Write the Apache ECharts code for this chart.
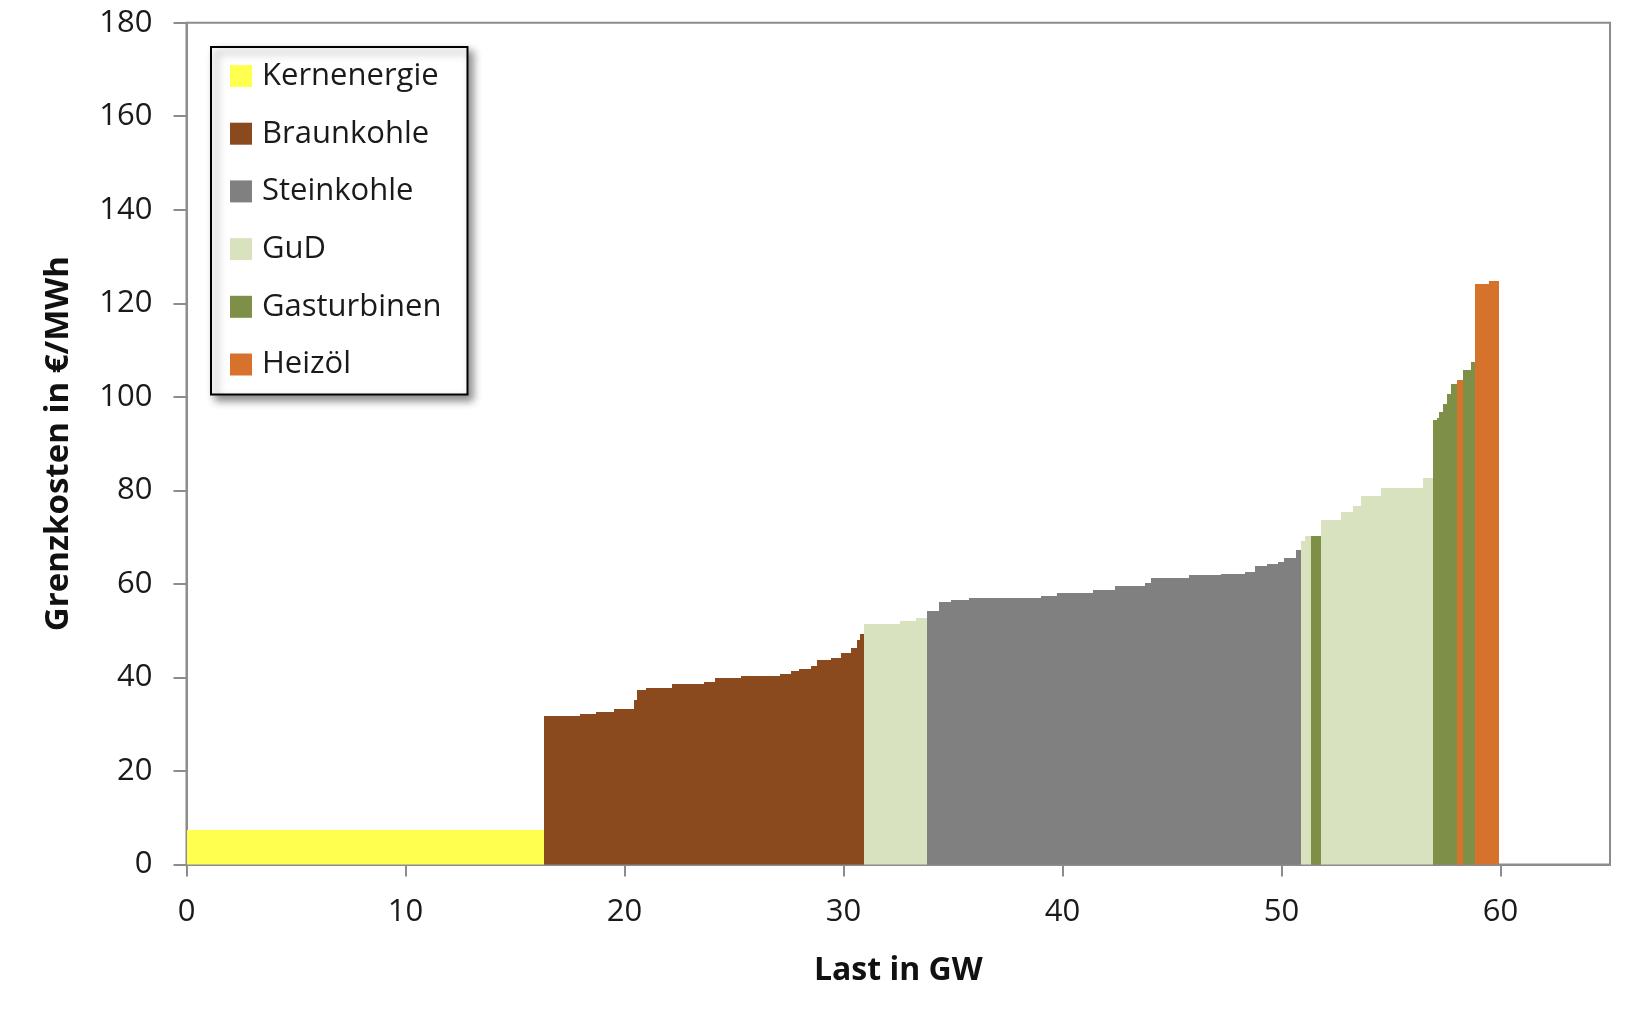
<!DOCTYPE html>
<html>
<head>
<meta charset="utf-8">
<script src="https://cdn.jsdelivr.net/npm/echarts@6/dist/echarts.min.js"></script>
<style>
html,body{margin:0;padding:0;background:#fff;}
#chart{width:1630px;height:1018px;}
</style>
</head>
<body>
<div id="chart"></div>
<script>
// Each step: [von GW, bis GW, Grenzkosten €/MWh]
const kernenergie = [[0, 16.34, 7.4]];
const braunkohle = [
  [16.34, 17.98, 31.8], [17.98, 18.72, 32.2], [18.72, 19.54, 32.7], [19.54, 20.45, 33.2],
  [20.45, 20.57, 35.2], [20.57, 21.0, 37.4], [21.0, 22.19, 37.8], [22.19, 23.62, 38.7],
  [23.62, 24.11, 39.1], [24.11, 25.3, 39.9], [25.3, 27.09, 40.3], [27.09, 27.58, 40.8],
  [27.58, 27.96, 41.3], [27.96, 28.5, 41.7], [28.5, 28.77, 42.5], [28.77, 29.41, 43.7],
  [29.41, 29.87, 44.2], [29.87, 30.32, 45.2], [30.32, 30.6, 46.3], [30.6, 30.75, 48.0],
  [30.75, 30.93, 49.3]
];
const steinkohle = [
  [33.8, 34.35, 54.1], [34.35, 34.9, 56.2], [34.9, 35.73, 56.6], [35.73, 39.0, 57.0],
  [39.0, 39.77, 57.5], [39.77, 41.37, 58.0], [41.37, 42.39, 58.7], [42.39, 43.76, 59.5],
  [43.76, 44.04, 60.1], [44.04, 45.79, 61.3], [45.79, 47.24, 61.8], [47.24, 48.33, 62.2],
  [48.33, 48.8, 62.6], [48.8, 49.34, 63.8], [49.34, 49.83, 64.2], [49.83, 50.1, 64.6],
  [50.1, 50.66, 65.6], [50.66, 50.87, 67.2]
];
const gud = [
  [30.93, 32.6, 51.4], [32.6, 33.33, 52.1], [33.33, 33.8, 52.8],
  [50.87, 51.07, 69.2], [51.07, 51.33, 70.2], [51.79, 52.72, 73.7], [52.72, 53.27, 75.4],
  [53.27, 53.63, 76.7], [53.63, 54.55, 78.8], [54.55, 56.47, 80.5], [56.47, 56.92, 82.6]
];
const gasturbinen = [
  [51.33, 51.79, 70.2], [56.92, 57.1, 95.0], [57.1, 57.18, 95.5], [57.18, 57.37, 96.8],
  [57.37, 57.56, 98.5], [57.56, 57.75, 100.6], [57.75, 58.02, 102.7], [58.3, 58.66, 105.7],
  [58.66, 58.84, 107.5]
];
const heizoel = [[58.02, 58.3, 103.6], [58.84, 59.48, 124.1], [59.48, 59.94, 124.8]];

const seriesNames = ['Kernenergie', 'Braunkohle', 'Steinkohle', 'GuD', 'Gasturbinen', 'Heizöl'];
const seriesData = [kernenergie, braunkohle, steinkohle, gud, gasturbinen, heizoel];
const seriesColors = ['#FFFF50', '#8B4A1E', '#808080', '#D8E2BF', '#7E9048', '#D6722C'];

const FONT = '"Open Sans", "Noto Sans", sans-serif';

function renderStep(params, api) {
  const p0 = api.coord([api.value(0), api.value(2)]);
  const p1 = api.coord([api.value(1), 0]);
  const x0 = Math.round(p0[0]);
  const x1 = Math.round(p1[0]);
  const yTop = Math.round(p0[1]);
  const yBot = Math.round(p1[1]);
  return {
    type: 'rect',
    shape: { x: x0, y: yTop, width: Math.max(1, x1 - x0), height: yBot - yTop },
    style: { fill: api.visual('color') }
  };
}

const chart = echarts.init(document.getElementById('chart'), null, { renderer: 'canvas' });
chart.setOption({
  animation: false,
  backgroundColor: '#ffffff',
  textStyle: { fontFamily: FONT },
  grid: {
    left: 186.5, top: 22.7, right: 20, bottom: 153.5,
    show: true, borderColor: '#8c8c8c', borderWidth: 2, backgroundColor: 'transparent'
  },
  legend: {
    orient: 'vertical',
    left: 211, top: 47,
    data: seriesNames.map(n => ({ name: n, icon: 'rect' })),
    itemWidth: 22, itemHeight: 22, itemGap: 21.7,
    padding: [11, 26, 12, 19],
    backgroundColor: '#ffffff',
    borderColor: '#000000', borderWidth: 2,
    shadowColor: 'rgba(0,0,0,0.45)', shadowBlur: 8, shadowOffsetX: 5, shadowOffsetY: 5,
    textStyle: { fontFamily: FONT, fontSize: 31, color: '#1a1a1a', lineHeight: 36, padding: [0, 0, 0, 5] },
    selectedMode: false
  },
  xAxis: {
    type: 'value', min: 0, max: 65, interval: 10,
    name: 'Last in GW', nameLocation: 'middle', nameGap: 90,
    nameTextStyle: { fontFamily: FONT, fontSize: 32, fontWeight: 'bold', color: '#111' },
    axisLine: { show: true, lineStyle: { color: '#8c8c8c', width: 2 } },
    axisTick: { show: true, length: 12, lineStyle: { color: '#8c8c8c', width: 2 } },
    axisLabel: { showMaxLabel: false, margin: 32, fontFamily: FONT, fontSize: 31, color: '#1a1a1a' },
    splitLine: { show: false }
  },
  yAxis: {
    type: 'value', min: 0, max: 180, interval: 20,
    name: 'Grenzkosten in €/MWh', nameLocation: 'middle', nameGap: 111,
    nameTextStyle: { fontFamily: FONT, fontSize: 33, fontWeight: 'bold', color: '#111' },
    axisLine: { show: true, lineStyle: { color: '#8c8c8c', width: 2 } },
    axisTick: { show: true, length: 13, lineStyle: { color: '#8c8c8c', width: 2 } },
    axisLabel: { margin: 34, fontFamily: FONT, fontSize: 31, color: '#1a1a1a' },
    splitLine: { show: false }
  },
  series: seriesNames.map((name, i) => ({
    name: name,
    type: 'custom',
    renderItem: renderStep,
    itemStyle: { color: seriesColors[i] },
    encode: { x: [0, 1], y: 2 },
    data: seriesData[i],
    clip: true
  }))
});
</script>
</body>
</html>
